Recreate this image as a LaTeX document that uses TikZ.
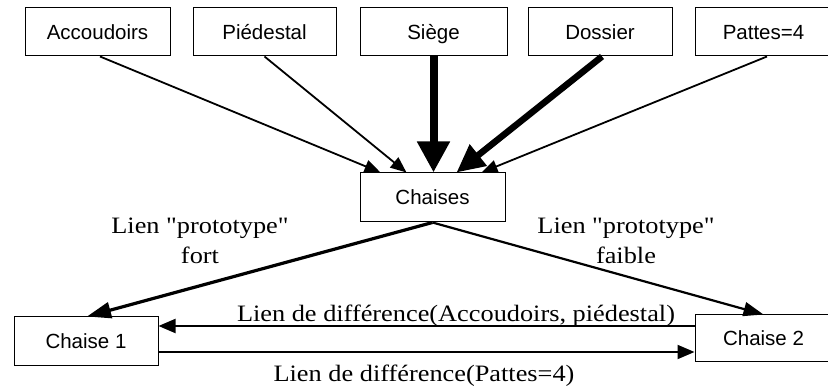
\documentclass[tikz,border=0pt]{standalone}
\usepackage{fontspec}
\newfontfamily\linkfont[FakeStretch=1.12]{Liberation Serif}
\newfontfamily\boxfont{Liberation Sans}
\usetikzlibrary{arrows.meta}
\begin{document}
\begin{tikzpicture}[x=1pt,y=-1pt,
  concept/.style={draw,line width=1pt,minimum height=48pt,inner sep=0pt,
    text height=16pt,text depth=1.4pt,
    font=\boxfont\fontsize{20.5}{24}\selectfont},
  linklabel/.style={font=\linkfont\fontsize{23.5}{30}\selectfont,align=center,inner sep=0pt},
  thin/.style={line width=1.8pt,-{Triangle[length=16pt,width=13pt]}},
  heavy/.style={line width=8pt,-{Triangle[length=31pt,width=31pt]}},
  medium/.style={line width=6.5pt,-{Triangle[length=28pt,width=26pt]}},
  strong/.style={line width=3.2pt,-{Triangle[length=24pt,width=16pt]}},
  weak/.style={line width=2.2pt,-{Triangle[length=20pt,width=14pt]}},
  diff/.style={line width=2pt,-{Triangle[length=17pt,width=14pt]}}]
\useasboundingbox (0,0) rectangle (828,387);

% attribute boxes
\node[concept,minimum width=145pt] (acc) at (97.5,32) {Accoudoirs};
\node[concept,minimum width=143pt] (ped) at (264.5,32) {Piédestal};
\node[concept,minimum width=147pt] (sie) at (433.5,32) {Siège};
\node[concept,minimum width=144pt] (dos) at (600,32) {Dossier};
\node[concept,minimum width=137pt] (pat) at (763.5,32) {Pattes=4};

% category and instances
\node[concept,minimum width=145pt,minimum height=49pt] (ch) at (432.5,197.5) {Chaises};
\node[concept,minimum width=144pt,minimum height=49pt] (c1) at (86,341.5) {Chaise 1};
\node[concept,minimum width=137pt,minimum height=47pt] (c2) at (763.5,338.5) {Chaise 2};

% attributes towards the category
\draw[thin] ([xshift=2.5pt]acc.south) -- ([xshift=21pt]ch.north west);
\draw[thin] (ped.south) -- ([xshift=47pt]ch.north west);
\draw[heavy] (sie.south) -- ([xshift=1pt]ch.north);
\draw[medium] ([xshift=2pt]dos.south) -- ([xshift=24pt]ch.north);
\draw[thin] ([xshift=3.5pt]pat.south) -- ([xshift=49pt]ch.north);

% prototype links
\draw[strong] (ch.south) -- ([xshift=1pt]c1.north);
\draw[weak] (ch.south) -- (c2.north);
\node[linklabel] (lpf) at (200,241) {Lien "prototype"\\fort};
\node[linklabel] (lpw) at (626,241) {Lien "prototype"\\faible};

% difference links
\coordinate (du) at ([yshift=12.5pt]c2.west);
\coordinate (dl) at ([yshift=-10.5pt]c1.east);
\draw[diff] (du) -- (du -| c1.east);
\draw[diff] (dl) -- (dl -| c2.west);
\node[linklabel,anchor=base] (ldu) at (456,322) {Lien de différence(Accoudoirs, piédestal)};
\node[linklabel,anchor=base] (ldl) at (424,382) {Lien de différence(Pattes=4)};
\end{tikzpicture}
\end{document}
